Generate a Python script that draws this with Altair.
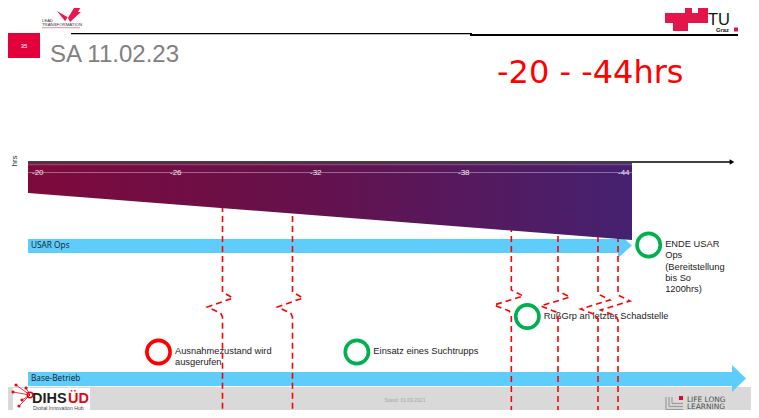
import altair as alt
import pandas as pd

W, H = 743, 402
X0, Y0 = 8, 8          # slide pixel (8, 8) is the chart's top-left corner

# ---------------- data ----------------
hour_ticks = [-20, -26, -32, -38, -44]
hour_labels = ["-20", "-26", "-32", "-38", "-44"]
hour_tick_px = [32, 170, 310, 458, 618]          # where the slide places each hour mark

event_hours = [-28.25, -31.25, -40.0, -41.75, -43.25, -44.0]
event_break_y = [292, 292, 290, 291, 294, 295]

marker_hours = [-25.5, -33.9, -40.6, -45.15]
marker_kind = ["alarm", "ok", "ok", "ok"]
marker_labels = ["Ausnahmezustand wird\nausgerufen",
                 "Einsatz eines Suchtrupps",
                 "RußGrp an letzter Schadstelle",
                 "ENDE USAR\nOps\n(Bereitstellung\nbis So\n1200hrs)"]
marker_row_y = [352, 352, 316.5, 245]

track_names = ["USAR Ops", "Base-Betrieb"]
track_start = [28, 28]
track_shaft_end = [618, 732]
track_tip = [632, 746]
track_top = [239, 372]
track_bottom = [253, 386]
head_top = [233, 365]
head_bottom = [258, 392]

title_text = "SA 11.02.23"
range_text = "-20 - -44hrs"
page_number = "35"
stand_text = "Stand: 01.09.2021"
axis_title = "hrs"

RED = "#ff0000"
GREEN = "#00b050"
BLUE = "#5ecdfb"
BRAND = "#e4003a"
FONT = "Liberation Sans"

# ---------------- scales ----------------
PX_X = alt.Scale(domain=[X0, X0 + W], range=[0, W], nice=False, zero=False)
PX_Y = alt.Scale(domain=[Y0, Y0 + H], range=[0, H], nice=False, zero=False)
HR_X = alt.Scale(domain=hour_ticks, range=[p - X0 for p in hour_tick_px],
                 nice=False, zero=False)


def frame(**cols):
    return pd.DataFrame(cols)


def X(f="x", s=PX_X):
    return alt.X(f"{f}:Q", scale=s, axis=None)


def Y(f="y"):
    return alt.Y(f"{f}:Q", scale=PX_Y, axis=None)


def rect_layer(df, **mk):
    return alt.Chart(df).mark_rect(**mk).encode(x=X(), x2="x2:Q", y=Y(), y2="y2:Q")


def rule_layer(df, **mk):
    return alt.Chart(df).mark_rule(**mk).encode(x=X(), x2="x2:Q", y=Y(), y2="y2:Q")


def text_layer(df, s=PX_X, **mk):
    mk.setdefault("font", FONT)
    return alt.Chart(df).mark_text(**mk).encode(x=X("x", s), y=Y(), text="t:N")


def point_layer(df, **mk):
    mk.setdefault("opacity", 1)
    return alt.Chart(df).mark_point(**mk).encode(x=X(), y=Y())


layers = []

# ---------------- footer band ----------------
layers.append(rect_layer(frame(x=[7], x2=[X0 + W], y=[387], y2=[Y0 + H]), color="#d9d9d9"))

# ---------------- header ----------------
layers.append(rect_layer(frame(x=[71, 470], x2=[472, 738], y=[33, 34], y2=[34.2, 36]),
                         color="black"))
layers.append(rect_layer(frame(x=[7], x2=[40], y=[33], y2=[58]), color=BRAND))
layers.append(text_layer(frame(x=[24], y=[46], t=[page_number]), color="white",
                         fontSize=6, align="center", baseline="middle"))
layers.append(text_layer(frame(x=[50], y=[62], t=[title_text]), color="#808080",
                         fontSize=24, align="left", baseline="alphabetic"))
layers.append(text_layer(frame(x=[497], y=[83], t=[range_text]), color=RED,
                         font="DejaVu Sans", fontSize=32, align="left", baseline="alphabetic"))

BUTTERFLY = ("M-0.92,-0.23 L-0.1,0.25 L-0.3,0.55 Z "
             "M-0.08,0.31 L0.38,-0.46 L1,-0.69 L0.69,-0.15 L0.92,-0.15 L0.08,0.62 Z")
layers.append(point_layer(frame(x=[69], y=[14]), shape=BUTTERFLY, filled=True, size=676,
                          color="#e8184f", strokeWidth=0))
layers.append(text_layer(frame(x=[42], y=[21.5], t=["LEAD\nTRANSFORMATION"]),
                         color="#333333", fontSize=4.3, lineBreak="\n", lineHeight=4.6,
                         align="left", baseline="alphabetic"))
layers.append(rect_layer(frame(x=[42], x2=[80], y=[27], y2=[28.2]), color="#e9a3b8"))

# TU Graz logo
layers.append(rect_layer(frame(x=[665, 685, 698, 673], x2=[708, 692, 708, 688],
                               y=[13, 5, 5, 23], y2=[23, 13, 13, 31]), color="#e4154b"))
layers.append(text_layer(frame(x=[708], y=[24.5], t=["TU"]), color="#111111",
                         fontSize=16.5, align="left", baseline="alphabetic"))
layers.append(text_layer(frame(x=[716], y=[32], t=["Graz"]), color="#111111",
                         fontSize=5.8, fontWeight="bold", align="left", baseline="alphabetic"))
layers.append(rect_layer(frame(x=[734], x2=[738], y=[27.5], y2=[31.5]), color="#e4154b"))

# ---------------- timeline axis ----------------
layers.append(text_layer(frame(x=[14.5], y=[161], t=[axis_title]), color="#333333",
                         fontSize=8, angle=270, align="center", baseline="middle"))
layers.append(rule_layer(frame(x=[28], x2=[731], y=[162], y2=[162]), color="black",
                         strokeWidth=1.4))
layers.append(point_layer(frame(x=[732], y=[162]), shape="triangle-right", filled=True,
                          size=30, color="black"))

# ---------------- tracks ----------------
track_df = frame(x=track_start, x2=track_shaft_end, y=track_top, y2=track_bottom)
layers.append(rect_layer(track_df, color=BLUE))
head_rows = []
for i in range(len(track_names)):
    mid = (head_top[i] + head_bottom[i]) / 2
    head_rows.append({"id": i, "x": track_shaft_end[i], "y": head_top[i], "y2": head_bottom[i]})
    head_rows.append({"id": i, "x": track_tip[i], "y": mid, "y2": mid})
layers.append(alt.Chart(pd.DataFrame(head_rows)).mark_area(color=BLUE)
              .encode(x=X(), y=Y(), y2="y2:Q", detail="id:N"))
label_df = frame(x=[s + 3 for s in track_start],
                 y=[(a + b) / 2 for a, b in zip(track_top, track_bottom)], t=track_names)
layers.append(text_layer(label_df, color="#1a1a1a", font="Open Sans", fontSize=8.3,
                         align="left", baseline="middle"))

# ---------------- markers ----------------
marker_df = frame(x=marker_hours, h=marker_hours, kind=marker_kind, t=marker_labels,
                  cy=marker_row_y, y=[v - 5 for v in marker_row_y])
layers.append(text_layer(marker_df, s=HR_X, dx=16.5, fontSize=9.3, lineHeight=11.3,
                         lineBreak="\n", align="left", baseline="top", color="#1a1a1a"))
layers.append(alt.Chart(marker_df).mark_point(shape="circle", filled=False, size=540,
                                              strokeWidth=3.6, opacity=1)
              .encode(x=X("h", HR_X), y=Y("cy"),
                      color=alt.Color("kind:N", legend=None,
                                      scale=alt.Scale(domain=["alarm", "ok"],
                                                      range=[RED, GREEN]))))

# ---------------- dashed event lines with break symbol ----------------
zig_dh = [0, 0, -0.45, 0.65, 0.08, 0, 0]
ev_rows = []
for k, (h, yb) in enumerate(zip(event_hours, event_break_y)):
    ys = [166, yb, yb + 6, yb + 15, yb + 21, yb + 25, Y0 + H + 4]
    for i, (dh, yy) in enumerate(zip(zig_dh, ys)):
        ev_rows.append({"id": k, "i": i, "h": h + dh, "y": yy})
layers.append(alt.Chart(pd.DataFrame(ev_rows))
              .mark_line(color=RED, strokeWidth=1.6, strokeDash=[6, 4])
              .encode(x=X("h", HR_X), y=Y(), detail="id:N", order="i:Q"))

# ---------------- time wedge ----------------
grad = alt.Gradient(gradient="linear", x1=0, x2=1, y1=0, y2=0,
                    stops=[alt.GradientStop(color="#7e0a3c", offset=0),
                           alt.GradientStop(color="#66114b", offset=0.45),
                           alt.GradientStop(color="#452170", offset=1)])
layers.append(alt.Chart(frame(x=[28, 632], y=[163, 163], y2=[193, 240]))
              .mark_area(color=grad).encode(x=X(), y=Y(), y2="y2:Q"))
layers.append(rule_layer(frame(x=[28], x2=[632], y=[164.5], y2=[164.5]), color="#c9a3b3",
                         strokeWidth=1.5, opacity=0.35))
layers.append(rule_layer(frame(x=[28], x2=[632], y=[172.5], y2=[172.5]), color="white",
                         strokeWidth=0.8, opacity=0.45))
layers.append(text_layer(frame(x=hour_ticks, y=[173] * len(hour_ticks), t=hour_labels),
                         s=HR_X, color="#f3e9f0", fontSize=8, align="left", baseline="middle"))

# ---------------- footer logos ----------------
layers.append(rect_layer(frame(x=[13], x2=[90], y=[388], y2=[Y0 + H]), color="white"))
net_x = [16, 13, 22, 19, 26]
net_y = [385, 392, 400, 406, 388]
layers.append(rule_layer(frame(x=[30] * 5, x2=net_x, y=[395] * 5, y2=net_y),
                         color="#e30613", strokeWidth=0.8))
layers.append(point_layer(frame(x=net_x, y=net_y), shape="circle", filled=True, size=10,
                          color="#e30613"))
layers.append(point_layer(frame(x=[30], y=[395]), shape="circle", filled=False, size=30,
                          strokeWidth=1.5, color="#e30613"))
layers.append(text_layer(frame(x=[32], y=[402.5], t=["DIHS"]), color="#231f20", fontSize=14.5,
                         fontWeight="bold", align="left", baseline="alphabetic"))
layers.append(text_layer(frame(x=[89], y=[402.5], t=["ÜD"]), color="#e30613", fontSize=14.5,
                         fontWeight="bold", align="right", baseline="alphabetic"))
layers.append(text_layer(frame(x=[33], y=[409.6], t=["Digital Innovation Hub"]),
                         color="#444444", fontSize=5.2, align="left", baseline="alphabetic"))
layers.append(text_layer(frame(x=[405], y=[400], t=[stand_text]), color="#a6a6a6",
                         fontSize=5, align="center", baseline="middle"))

# Life Long Learning logo
layers.append(rule_layer(frame(x=[666, 669, 672, 666, 669, 672],
                               x2=[666, 669, 672, 683, 683, 683],
                               y=[397, 397, 397, 409.5, 406.5, 403.5],
                               y2=[409.5, 406.5, 403.5, 409.5, 406.5, 403.5]),
                         color="#9a9a9a", strokeWidth=1.2))
layers.append(rect_layer(frame(x=[679], x2=[683], y=[396], y2=[400]), color="#e4003a"))
layers.append(text_layer(frame(x=[687], y=[401.8], t=["LIFE LONG\nLEARNING"]),
                         color="#4d4d4d", font="DejaVu Sans", fontSize=7.4, lineBreak="\n",
                         lineHeight=7.5, align="left", baseline="alphabetic"))

chart = (alt.layer(*layers)
         .resolve_scale(x="independent")
         .properties(width=W, height=H, padding=0, background="white",
                     autosize=alt.AutoSizeParams(type="none"))
         .configure_view(stroke=None))

chart.save("out.html", embed_options={"renderer": "svg", "actions": False})
